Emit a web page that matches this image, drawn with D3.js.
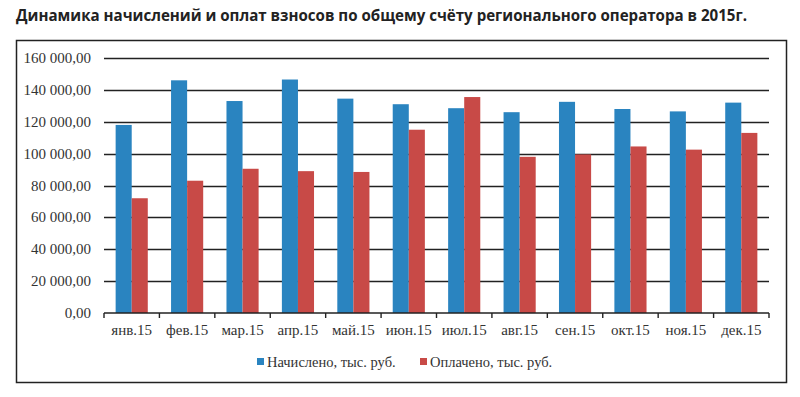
<!DOCTYPE html>
<html>
<head>
<meta charset="utf-8">
<script src="https://cdn.jsdelivr.net/npm/d3@7"></script>
<style>
  body { margin: 0; background: #fff; }
  svg { display: block; }
</style>
</head>
<body>
<div id="chart"></div>
<script>
// Data
const months = ["янв.15", "фев.15", "мар.15", "апр.15", "май.15", "июн.15",
                "июл.15", "авг.15", "сен.15", "окт.15", "ноя.15", "дек.15"];
const charged = [118000, 146000, 133000, 146500, 134500, 131000,
                 128500, 126000, 132500, 128000, 126500, 132000];
const paid = [72000, 83000, 90500, 89000, 88500, 115000,
              135500, 98000, 99500, 104500, 102500, 113000];
const seriesNames = ["Начислено, тыс. руб.", "Оплачено, тыс. руб."];
const yTicks = [0, 20000, 40000, 60000, 80000, 100000, 120000, 140000, 160000];

const colors = ["#2a84c0", "#c84a47"];
const width = 800, height = 397;
const margin = {top: 58, right: 31, bottom: 85, left: 104};

const svg = d3.select("#chart").append("svg")
    .attr("width", width)
    .attr("height", height);

// Title
svg.append("text")
    .attr("x", 16)
    .attr("y", 21)
    .attr("textLength", 731)
    .attr("lengthAdjust", "spacingAndGlyphs")
    .style("font-family", "'Open Sans', sans-serif")
    .style("font-weight", "bold")
    .style("font-size", "16px")
    .style("fill", "#222")
    .text("Динамика начислений и оплат взносов по общему счёту регионального оператора в 2015г.");

// Frame
svg.append("rect")
    .attr("x", 16.5)
    .attr("y", 40.5)
    .attr("width", 770)
    .attr("height", 342)
    .attr("fill", "none")
    .attr("stroke", "#222")
    .attr("stroke-width", 1.5);

const g = svg.append("g")
    .attr("transform", `translate(${margin.left},${margin.top})`);

const innerW = width - margin.left - margin.right;
const innerH = 313 - margin.top;

const x = d3.scaleBand()
    .domain(months)
    .range([0, innerW])
    .paddingInner(0.42)
    .paddingOuter(0.21);

const x1 = d3.scaleBand()
    .domain([0, 1])
    .range([0, x.bandwidth()]);

const y = d3.scaleLinear()
    .domain([0, 160000])
    .range([innerH, 0]);

const fmt = v => d3.format(",.2f")(v).replace(/,/g, " ").replace(".", ",");

// Gridlines
g.append("g")
    .selectAll("line")
    .data(yTicks.slice(1))
    .enter()
    .append("line")
    .attr("x1", 0)
    .attr("x2", innerW)
    .attr("y1", d => Math.round(y(d)) + 0.5)
    .attr("y2", d => Math.round(y(d)) + 0.5)
    .attr("stroke", "#222")
    .attr("stroke-width", 1.4);

// Bars
const groups = g.append("g")
    .selectAll("g")
    .data(months)
    .enter()
    .append("g")
    .attr("transform", d => `translate(${x(d)},0)`);

groups.selectAll("rect")
    .data((d, i) => [charged[i], paid[i]])
    .enter()
    .append("rect")
    .attr("x", (d, j) => x1(j))
    .attr("y", d => y(d))
    .attr("width", x1.bandwidth())
    .attr("height", d => innerH - y(d))
    .attr("fill", (d, j) => colors[j]);

// Y axis labels
g.append("g")
    .selectAll("text")
    .data(yTicks)
    .enter()
    .append("text")
    .attr("x", -13)
    .attr("y", d => y(d) + 5)
    .attr("text-anchor", "end")
    .style("font-family", "'Liberation Serif', serif")
    .style("font-size", "15px")
    .style("fill", "#333")
    .text(fmt);

// X axis
const xAxis = g.append("g")
    .attr("transform", `translate(0,${innerH})`);

xAxis.append("line")
    .attr("x1", 0)
    .attr("x2", innerW)
    .attr("stroke", "#222")
    .attr("stroke-width", 1.4);

xAxis.selectAll(".tick")
    .data(d3.range(months.length + 1))
    .enter()
    .append("line")
    .attr("x1", i => i * innerW / months.length)
    .attr("x2", i => i * innerW / months.length)
    .attr("y1", 0)
    .attr("y2", 5)
    .attr("stroke", "#222")
    .attr("stroke-width", 1.4);

xAxis.selectAll("text")
    .data(months)
    .enter()
    .append("text")
    .attr("x", d => x(d) + x.bandwidth() / 2)
    .attr("y", 22)
    .attr("text-anchor", "middle")
    .style("font-family", "'Liberation Serif', serif")
    .style("font-size", "15px")
    .style("fill", "#333")
    .text(d => d);

// Legend
const legendX = [257, 420];
const legend = svg.append("g")
    .selectAll("g")
    .data(seriesNames)
    .enter()
    .append("g")
    .attr("transform", (d, i) => `translate(${legendX[i]},358)`);

legend.append("rect")
    .attr("width", 7)
    .attr("height", 7)
    .attr("fill", (d, i) => colors[i]);

legend.append("text")
    .attr("x", 10)
    .attr("y", 8.5)
    .style("font-family", "'Liberation Serif', serif")
    .style("font-size", "14.5px")
    .style("fill", "#333")
    .text(d => d);
</script>
</body>
</html>
